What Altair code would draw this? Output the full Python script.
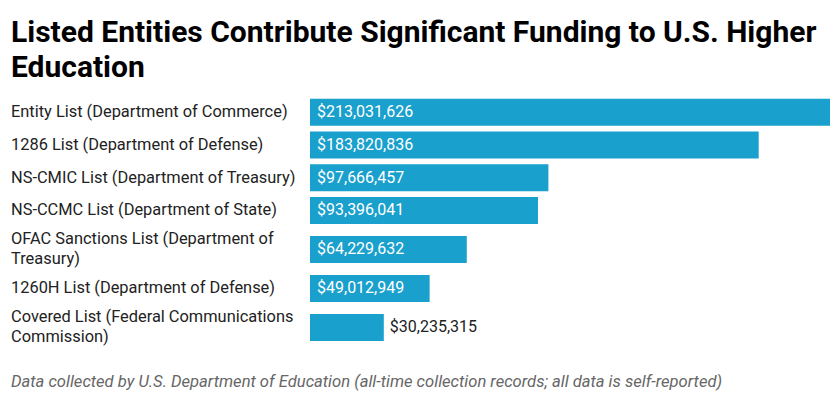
import altair as alt
import pandas as pd

categories = [
    "Entity List (Department of Commerce)",
    "1286 List (Department of Defense)",
    "NS-CMIC List (Department of Treasury)",
    "NS-CCMC List (Department of State)",
    "OFAC Sanctions List (Department of\nTreasury)",
    "1260H List (Department of Defense)",
    "Covered List (Federal Communications\nCommission)",
]
values = [213031626, 183820836, 97666457, 93396041, 64229632, 49012949, 30235315]

df = pd.DataFrame({"cat": categories, "value": values, "order": list(range(len(values)))})
df["label"] = ["$" + f"{v:,}" for v in values]

W = 520
ROW1, ROW_EXTRA, BAR_H = 32.7, 12.6, 27
H = 254
FONT = "Roboto"
BAR = "#1aa0cc"
LH = 20

base = alt.Chart(df).transform_calculate(
    nlines="length(split(datum.cat, '\\n'))",
    h=f"{ROW1} + {ROW_EXTRA} * (length(split(datum.cat, '\\n')) - 1)",
).transform_window(
    cum="sum(h)", sort=[alt.SortField("order")], frame=[None, 0]
).transform_calculate(
    yc="datum.cum - datum.h / 2",
    y0=f"datum.cum - datum.h / 2 - {BAR_H / 2}",
    y1=f"datum.cum - datum.h / 2 + {BAR_H / 2}",
)

yscale = alt.Scale(domain=[0, H], range=[0, H], nice=False, zero=False)
xscale = alt.Scale(domain=[0, 213031626], nice=False)

bars = base.mark_rect(color=BAR).encode(
    x=alt.X("value:Q", axis=None, scale=xscale),
    x2=alt.datum(0),
    y=alt.Y("y0:Q", axis=None, scale=yscale),
    y2="y1:Q",
)

yc = alt.Y("yc:Q", axis=None, scale=yscale)

inside = base.transform_filter("datum.value > 40000000").mark_text(
    align="left", baseline="middle", dx=7, font=FONT, fontSize=16, color="white"
).encode(x=alt.value(0), y=yc, text="label:N")

outside = base.transform_filter("datum.value <= 40000000").mark_text(
    align="left", baseline="middle", dx=6, font=FONT, fontSize=16, color="#222222"
).encode(x=alt.X("value:Q", scale=xscale), y=yc, text="label:N")

cat1 = base.transform_filter("datum.nlines == 1").mark_text(
    align="left", baseline="middle", font=FONT, fontSize=16.4, color="#222222",
    lineBreak="\n", lineHeight=LH
).encode(x=alt.value(-299), y=yc, text="cat:N")

cat2 = base.transform_filter("datum.nlines == 2").mark_text(
    align="left", baseline="middle", font=FONT, fontSize=16.4, color="#222222",
    lineBreak="\n", lineHeight=LH, dy=-LH / 2
).encode(x=alt.value(-299), y=yc, text="cat:N")

footnote = base.transform_filter("datum.order == 0").mark_text(
    align="left", baseline="middle", font=FONT, fontSize=16.6, fontStyle="italic",
    color="#666666"
).encode(x=alt.value(-299), y=alt.value(H + 32),
         text=alt.value("Data collected by U.S. Department of Education (all-time collection records; all data is self-reported)"))

chart = alt.layer(bars, inside, outside, cat1, cat2, footnote).properties(
    width=W, height=H,
    padding={"left": 3, "top": 10, "right": 2, "bottom": 2},
    title=alt.Title(
        ["Listed Entities Contribute Significant Funding to U.S. Higher", "Education"],
        anchor="start", frame="bounds", font=FONT, fontSize=30, fontWeight="bold",
        color="#000000", lineHeight=35, offset=13,
    ),
).configure_view(stroke=None)

chart.save("out.html", embed_options={"renderer": "svg", "actions": False})
